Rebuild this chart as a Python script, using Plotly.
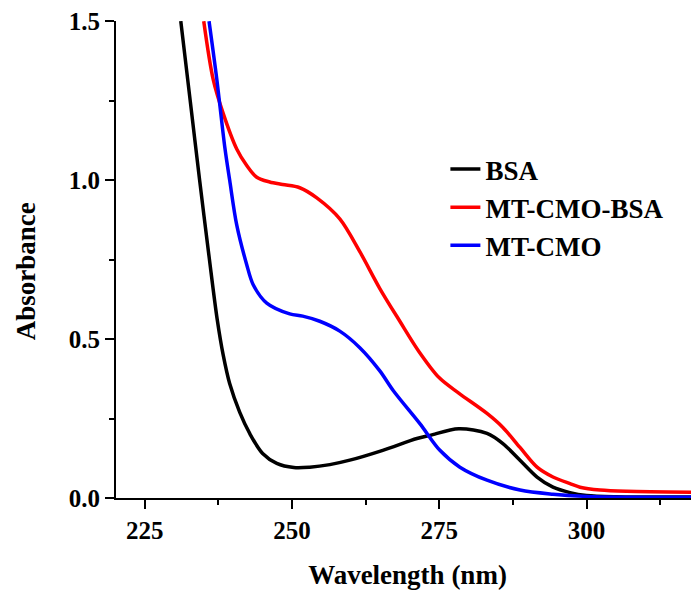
import plotly.graph_objects as go

# BSA
bsa_x = [231.1, 232.7, 234.3, 235.9, 237.3, 238.3, 239.4, 241.1, 242.8, 245.0, 247.4, 250.3, 253.0,
         256.4, 259.8, 265.4, 271.2, 273.4, 278.3, 283.1, 285.8, 288.7, 291.6, 294.3, 297.2, 300.0,
         305.0, 319.5]
bsa_y = [1.5, 1.25, 1.0, 0.76, 0.56, 0.45, 0.36, 0.27, 0.203, 0.14, 0.109, 0.096, 0.097,
         0.105, 0.119, 0.15, 0.187, 0.197, 0.218, 0.203, 0.171, 0.119, 0.066, 0.034, 0.017, 0.008,
         0.004, 0.003]

# MT-CMO-BSA
mtb_x = [235.0, 236.6, 238.3, 240.6, 242.3, 244.0, 246.2, 248.4, 251.3, 254.2, 258.1, 261.5,
         264.9, 268.3, 271.5, 275.0, 278.3, 283.1, 285.8, 288.7, 291.6, 294.3, 297.2, 298.9, 302.3,
         306.8, 319.5]
mtb_y = [1.5, 1.317, 1.21, 1.098, 1.046, 1.009, 0.994, 0.986, 0.976, 0.944, 0.878, 0.775,
         0.659, 0.556, 0.462, 0.378, 0.33, 0.266, 0.222, 0.159, 0.097, 0.066, 0.045, 0.034, 0.025,
         0.021, 0.018]

# MT-CMO
mt_x = [235.9, 237.2, 238.6, 239.4, 240.6, 242.3, 243.4, 245.7, 249.6, 251.8, 254.7, 258.1, 261.5,
        264.9, 267.2, 271.7, 275.1, 278.5, 283.1, 288.7, 294.3, 300.0, 319.5]
mt_y = [1.5, 1.32, 1.1, 1.0, 0.859, 0.734, 0.671, 0.613, 0.579, 0.572, 0.556, 0.525, 0.473,
        0.40, 0.3375, 0.234, 0.15, 0.097, 0.056, 0.025, 0.012, 0.005, 0.002]

names = ["BSA", "MT-CMO-BSA", "MT-CMO"]
colors = ["#000000", "#ff0000", "#0000ff"]
xs = [bsa_x, mtb_x, mt_x]
ys = [bsa_y, mtb_y, mt_y]

x_ticks = [225, 250, 275, 300]
y_ticks = [0.0, 0.5, 1.0, 1.5]
y_tick_labels = ["0.0", "0.5", "1.0", "1.5"]

FONT = "Liberation Serif"

fig = go.Figure()
for n, c, x, y in zip(names, colors, xs, ys):
    fig.add_trace(go.Scatter(x=x, y=y, name=n, mode="lines",
                             line=dict(color=c, width=3.5, shape="spline", smoothing=0.9)))

fig.update_layout(
    width=691, height=588,
    margin=dict(l=108, r=0, t=10, b=98),
    plot_bgcolor="white", paper_bgcolor="white",
    font=dict(family=FONT, color="black"),
    showlegend=True,
    legend=dict(x=0.565, y=0.74, xanchor="left", yanchor="top",
                bgcolor="rgba(0,0,0,0)", tracegroupgap=0,
                font=dict(family=FONT, size=27, color="black", weight="bold")),
    annotations=[dict(text="Absorbance", xref="paper", yref="paper",
                      x=-0.153, y=0.475, xanchor="center", yanchor="middle",
                      textangle=-90, showarrow=False,
                      font=dict(family=FONT, size=27, color="black", weight="bold"))],
)

fig.update_xaxes(
    range=[220.1, 319.1], tickvals=x_ticks, ticktext=[str(t) for t in x_ticks],
    showgrid=False, zeroline=False, showline=True, linecolor="black", linewidth=2,
    ticks="outside", ticklen=9, tickwidth=2, tickcolor="black", ticklabeloverflow="allow",
    tickfont=dict(family=FONT, size=25, color="black", weight="bold"),
    minor=dict(dtick=12.5, tick0=225, ticks="outside", ticklen=5, tickwidth=2, tickcolor="black"),
    title=dict(text="Wavelength (nm)", standoff=22,
               font=dict(family=FONT, size=27, color="black", weight="bold")),
)
fig.update_yaxes(
    range=[0, 1.5005], tickvals=y_ticks, ticktext=y_tick_labels,
    showgrid=False, zeroline=False, showline=True, linecolor="black", linewidth=2,
    ticks="outside", ticklen=9, tickwidth=2, tickcolor="black", ticklabeloverflow="allow",
    tickfont=dict(family=FONT, size=25, color="black", weight="bold"),
    minor=dict(dtick=0.25, tick0=0, ticks="outside", ticklen=5, tickwidth=2, tickcolor="black"),
)

fig.write_html("out.html")
